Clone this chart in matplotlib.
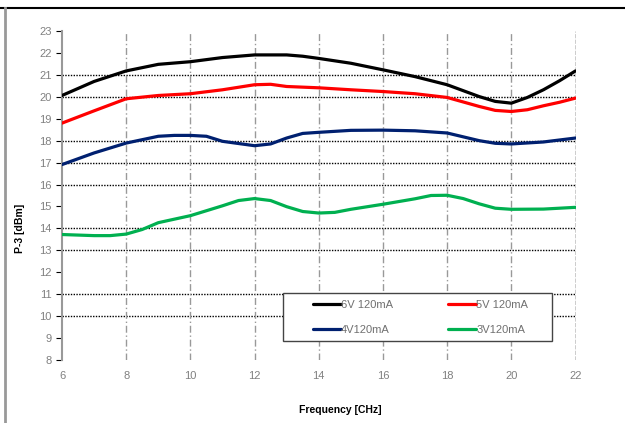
import matplotlib.pyplot as plt
from matplotlib.lines import Line2D
from matplotlib.patches import Rectangle

plt.rcParams['font.family'] = ['Liberation Sans', 'DejaVu Sans']

# values, GHz / dBm
f6v = [6, 7, 8, 9, 10, 11, 12, 13, 13.5, 14, 15, 16, 17, 18, 19, 19.5, 20, 20.5, 21, 21.5, 22]
p6v = [20.06, 20.7, 21.18, 21.48, 21.6, 21.79, 21.91, 21.91, 21.85, 21.75, 21.53, 21.23, 20.92, 20.55,
       20.01, 19.79, 19.71, 19.97, 20.32, 20.73, 21.18]
f5v = [6, 7, 8, 9, 10, 11, 12, 12.5, 13, 14, 15, 16, 17, 18, 19, 19.5, 20, 20.5, 21, 21.5, 22]
p5v = [18.8, 19.36, 19.91, 20.06, 20.14, 20.32, 20.55, 20.57, 20.47, 20.41, 20.32, 20.24, 20.14, 19.97,
       19.56, 19.38, 19.33, 19.41, 19.59, 19.75, 19.94]
f4v = [6, 7, 8, 9, 9.5, 10, 10.5, 11, 12, 12.5, 13, 13.5, 14, 15, 16, 17, 18, 19, 19.5, 20, 21, 22]
p4v = [16.91, 17.44, 17.89, 18.2, 18.24, 18.24, 18.2, 17.97, 17.77, 17.85, 18.12, 18.33, 18.38, 18.47,
       18.48, 18.45, 18.35, 18.0, 17.88, 17.85, 17.94, 18.12]
f3v = [6, 7, 7.5, 8, 8.5, 9, 10, 11, 11.5, 12, 12.5, 13, 13.5, 14, 14.5, 15, 16, 17, 17.5, 18, 18.5,
       19, 19.5, 20, 21, 22]
p3v = [13.72, 13.67, 13.67, 13.74, 13.95, 14.26, 14.58, 15.03, 15.27, 15.36, 15.27, 14.99, 14.77, 14.7,
       14.73, 14.87, 15.1, 15.35, 15.5, 15.51, 15.36, 15.12, 14.92, 14.87, 14.88, 14.96]

labels = ["6V 120mA", "5V 120mA", "4V120mA", "3V120mA"]
colors = ["#000000", "#ff0000", "#002070", "#00b050"]
series = [(f6v, p6v), (f5v, p5v), (f4v, p4v), (f3v, p3v)]

xticks = [6, 8, 10, 12, 14, 16, 18, 20, 22]
yticks = list(range(8, 24))
ygrid = [10, 11, 13, 14, 16, 17, 18, 20, 21]

fig = plt.figure(figsize=(6.25, 4.23), dpi=100)
ax = fig.add_axes([0.0992, 0.149, 0.8216, 0.7777])

for yv in ygrid:
    ax.axhline(yv, color="black", lw=1, ls=(0, (1, 1)), zorder=1)
for xv in xticks[1:-1]:
    ax.axvline(xv, color="#999999", lw=1, ls=(0, (5, 2, 1, 2)), zorder=1)
ax.axvline(22, color="black", lw=1, ls=(0, (3, 1)), zorder=1)

lines = []
for (xs, ys), c, lab in zip(series, colors, labels):
    ln, = ax.plot(xs, ys, color=c, lw=2.3, label=lab, zorder=3,
                  solid_capstyle="round", solid_joinstyle="round")
    lines.append(ln)

ax.set_xlim(6, 22)
ax.set_ylim(8, 23)
ax.set_xticks(xticks)
ax.set_yticks(yticks)
ax.tick_params(axis="both", labelsize=8, labelcolor="#808080", color="black", length=4)
ax.tick_params(axis="x", length=0, pad=8)
for s in ["top", "right", "bottom"]:
    ax.spines[s].set_visible(False)
ax.spines["left"].set_color("#999999")
ax.spines["left"].set_linewidth(1.5)

fig.text(0.032, 0.46, "P-3 [dBm]", rotation=90, ha="center", va="center",
         fontsize=7.5, fontweight="bold")
fig.text(0.545, 0.031, "Frequency [CHz]", ha="center", va="center",
         fontsize=7.5, fontweight="bold")

# legend box drawn separately, entries placed inside it
fig.add_artist(Rectangle((283 / 625, 1 - 341 / 423), 269 / 625, 48 / 423,
                         transform=fig.transFigure, facecolor="white",
                         edgecolor="#444444", lw=1, zorder=4))
order = [0, 2, 1, 3]
leg = fig.legend([lines[i] for i in order], [labels[i] for i in order],
                 ncol=2, loc="upper left", bbox_to_anchor=(313 / 625, 1 - 300 / 423),
                 borderaxespad=0, borderpad=0, frameon=False,
                 fontsize=8, handlelength=2.5, handletextpad=0.0,
                 labelspacing=1.35, columnspacing=5.0)
for t in leg.get_texts():
    t.set_color("#707070")
leg.set_zorder(5)

fig.add_artist(Line2D([0, 1], [1 - 8 / 423, 1 - 8 / 423], color="black", lw=1.5,
                      transform=fig.transFigure))
fig.add_artist(Line2D([5 / 625, 5 / 625], [0, 1 - 8 / 423], color="#999999", lw=2,
                      transform=fig.transFigure))

fig.savefig("out.png", dpi=100)
